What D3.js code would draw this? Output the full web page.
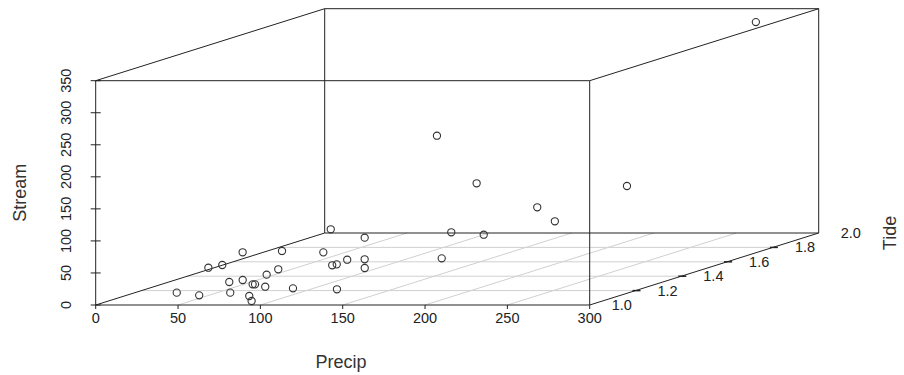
<!DOCTYPE html>
<html>
<head>
<meta charset="utf-8">
<script src="https://cdn.jsdelivr.net/npm/d3@7"></script>
<style>
  html, body { margin: 0; padding: 0; background: #fff; }
  svg { display: block; font-family: "Liberation Sans", Arial, sans-serif; }
</style>
</head>
<body>
<svg id="chart" width="904" height="375"></svg>
<script>
// Observations: precipitation, tide height and stream flow
const precip = [35.3, 55.9, 26.7, 28.2, 33.6, 53.3, 67.8, 54.5, 67.5, 75.9,
                86.3, 91.9, 82.1, 62.1, 62.2, 43.6, 105.9, 59.3, 66.0, 68.7,
                88.0, 83.8, 83.2, 107.7, 114.7, 132.6, 137.7, 147.9, 170.8, 195.4,
                146.4, 152.2, 154.5, 253.1, 282.7];
const tide   = [1.10, 1.05, 1.30, 1.35, 1.40, 1.20, 1.10, 1.25, 1.20, 1.15,
                1.05, 1.02, 1.15, 1.30, 1.35, 1.50, 1.10, 1.60, 1.70, 1.50,
                1.40, 1.45, 1.50, 1.40, 1.35, 1.10, 1.50, 1.60, 1.70, 1.60,
                1.50, 1.60, 1.40, 1.50, 1.85];
const stream = [8.0, 9.5, 24.5, 23.1, 37.3, 13.4, 8.0, 10.9, 9.8, 15.4,
                8.4, 4.0, 11.7, 13.6, 16.4, 28.1, 14.8, 50.7, 26.4, 26.0,
                17.0, 12.9, 14.5, 26.4, 18.4, 13.3, 208.0, 122.5, 73.8, 63.2,
                57.3, 42.3, 27.9, 129.5, 346.0];

// Axis ticks
const precipTicks = [0, 50, 100, 150, 200, 250, 300];
const streamTicks = [0, 50, 100, 150, 200, 250, 300, 350];
const tideTicks   = [1.0, 1.2, 1.4, 1.6, 1.8, 2.0];
const tideLabels  = ["1.0", "1.2", "1.4", "1.6", "1.8", "2.0"];

const svg = d3.select("#chart");
const ink = "#222";
const gridCol = "#d0d0d0";

// Oblique projection: precip runs across, stream runs up, tide recedes to the upper right
const xS = d3.scaleLinear().domain([0, 300]).range([95.7, 589.7]);
const zS = d3.scaleLinear().domain([0, 350]).range([305, 80.7]);
const depthX = d3.scaleLinear().domain([1, 2]).range([0, 229]);
const depthY = d3.scaleLinear().domain([1, 2]).range([0, 72]);

const P = (p, t, s) => [xS(p) + depthX(t), zS(s) - depthY(t)];

const xMin = 0, xMax = 300, tMin = 1, tMax = 2, sMin = 0, sMax = 350;

function seg(a, b, color, width) {
  svg.append("line")
    .attr("x1", a[0]).attr("y1", a[1])
    .attr("x2", b[0]).attr("y2", b[1])
    .attr("stroke", color).attr("stroke-width", width || 1);
}

// Floor grid
precipTicks.filter(v => v > xMin && v < xMax).forEach(v =>
  seg(P(v, tMin, sMin), P(v, tMax, sMin), gridCol));
tideTicks.filter(v => v > tMin && v < tMax).forEach(v =>
  seg(P(xMin, v, sMin), P(xMax, v, sMin), gridCol));

// Box
const box = [
  [[xMin, tMin, sMin], [xMax, tMin, sMin]],
  [[xMin, tMin, sMin], [xMin, tMin, sMax]],
  [[xMax, tMin, sMin], [xMax, tMin, sMax]],
  [[xMin, tMin, sMax], [xMax, tMin, sMax]],
  [[xMin, tMax, sMin], [xMax, tMax, sMin]],
  [[xMin, tMax, sMin], [xMin, tMax, sMax]],
  [[xMax, tMax, sMin], [xMax, tMax, sMax]],
  [[xMin, tMax, sMax], [xMax, tMax, sMax]],
  [[xMin, tMin, sMin], [xMin, tMax, sMin]],
  [[xMax, tMin, sMin], [xMax, tMax, sMin]],
  [[xMin, tMin, sMax], [xMin, tMax, sMax]],
  [[xMax, tMin, sMax], [xMax, tMax, sMax]]
];
box.forEach(([a, b]) => seg(P(...a), P(...b), ink));

// Precip axis ticks and labels
precipTicks.forEach(v => {
  const [x, y] = P(v, tMin, sMin);
  seg([x, y], [x, y + 4], ink);
  svg.append("text").attr("x", x).attr("y", y + 13)
    .attr("text-anchor", "middle").attr("dominant-baseline", "central")
    .attr("font-size", 14.5).attr("fill", ink).text(v);
});

// Stream axis ticks and labels (rotated)
streamTicks.forEach(v => {
  const [x, y] = P(xMin, tMin, v);
  seg([x - 5, y], [x + 5, y], ink);
  svg.append("text")
    .attr("transform", `translate(${x - 30},${y}) rotate(-90)`)
    .attr("text-anchor", "middle").attr("dominant-baseline", "central")
    .attr("font-size", 14.5).attr("fill", ink).text(v);
});

// Tide axis ticks and labels
tideTicks.forEach((v, i) => {
  const [x, y] = P(xMax, v, sMin);
  if (i > 0 && i < tideTicks.length - 1) seg([x - 3, y], [x + 5, y], ink, 1.5);
  svg.append("text").attr("x", x + 22).attr("y", y)
    .attr("text-anchor", "start").attr("dominant-baseline", "central")
    .attr("font-size", 14.5).attr("fill", ink).text(tideLabels[i]);
});

// Axis titles
svg.append("text").attr("x", 341).attr("y", 362)
  .attr("text-anchor", "middle").attr("dominant-baseline", "central")
  .attr("font-size", 18).attr("fill", "#333").text("Precip");
svg.append("text")
  .attr("transform", `translate(20,${(zS(0) + zS(350)) / 2}) rotate(-90)`)
  .attr("text-anchor", "middle").attr("dominant-baseline", "central")
  .attr("font-size", 18).attr("fill", "#333").text("Stream");
svg.append("text")
  .attr("transform", `translate(890,${P(xMax, tMax, sMin)[1]}) rotate(-90)`)
  .attr("text-anchor", "middle").attr("dominant-baseline", "central")
  .attr("font-size", 18).attr("fill", "#333").text("Tide");

// Points
svg.append("g").selectAll("circle")
  .data(d3.range(precip.length))
  .join("circle")
  .attr("cx", i => P(precip[i], tide[i], stream[i])[0])
  .attr("cy", i => P(precip[i], tide[i], stream[i])[1])
  .attr("r", 3.6)
  .attr("fill", "none")
  .attr("stroke", "#333")
  .attr("stroke-width", 1.1);
</script>
</body>
</html>
